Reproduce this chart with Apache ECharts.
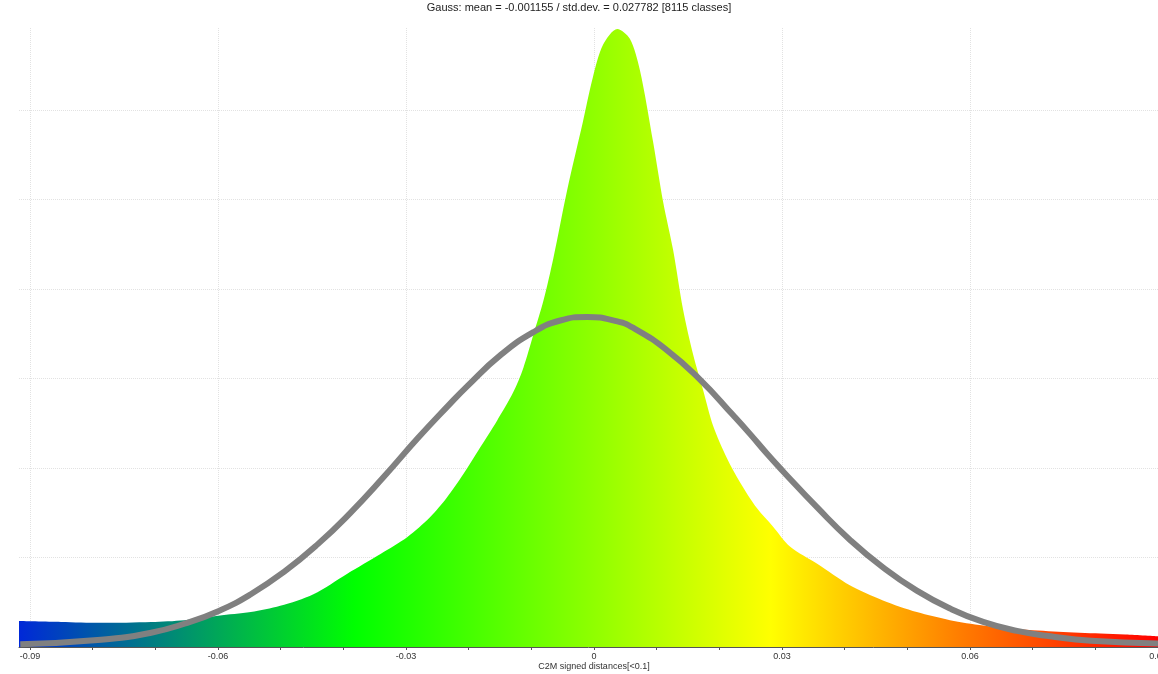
<!DOCTYPE html>
<html>
<head>
<meta charset="utf-8">
<script src="https://cdn.jsdelivr.net/npm/echarts@6/dist/echarts.min.js"></script>
<style>
html,body{margin:0;padding:0;background:#fff;overflow:hidden;}
#chart{width:1158px;height:674px;}
</style>
</head>
<body>
<div id="chart"></div>
<script>
// Histogram outline (C2M signed distance, relative count)
const histX = [-0.0918, -0.0851, -0.0787, -0.0707, -0.0654, -0.0600, -0.0548, -0.0501, -0.0448, -0.0394,
  -0.0341, -0.0298, -0.0262, -0.0235, -0.0209, -0.0182, -0.0155, -0.0129, -0.0113, -0.0097,
  -0.0081, -0.0065, -0.0043, -0.0018, -0.0002, 0.0014, 0.0037, 0.0057, 0.0073, 0.0094,
  0.0110, 0.0126, 0.0142, 0.0158, 0.0174, 0.0190, 0.0212, 0.0233, 0.0260, 0.0285,
  0.0313, 0.0356, 0.0408, 0.0461, 0.0515, 0.0568, 0.0621, 0.0675, 0.0741, 0.0808,
  0.0848, 0.0900];
const histY = [0.29, 0.28, 0.27, 0.28, 0.30, 0.35, 0.39, 0.46, 0.59, 0.82,
  1.04, 1.23, 1.45, 1.67, 1.93, 2.23, 2.53, 2.85, 3.12, 3.49,
  3.87, 4.35, 5.11, 5.87, 6.37, 6.73, 6.91, 6.80, 6.45, 5.65,
  4.98, 4.44, 3.77, 3.27, 2.87, 2.47, 2.11, 1.84, 1.55, 1.35,
  1.12, 0.93, 0.69, 0.52, 0.39, 0.30, 0.24, 0.20, 0.17, 0.15,
  0.14, 0.12];

// Fitted Gauss curve
const gaussX = [-0.0916, -0.0787, -0.0707, -0.0654, -0.0600, -0.0548, -0.0495, -0.0441, -0.0389, -0.0336,
  -0.0282, -0.0234, -0.0202, -0.0150, -0.0097, -0.0054, -0.0011, 0.0037, 0.0062, 0.0116,
  0.0169, 0.0222, 0.0249, 0.0276, 0.0302, 0.0356, 0.0408, 0.0461, 0.0515, 0.0568,
  0.0621, 0.0675, 0.0728, 0.0793, 0.0900];
const gaussY = [0.03, 0.08, 0.16, 0.26, 0.40, 0.59, 0.84, 1.15, 1.50, 1.90,
  2.33, 2.69, 2.92, 3.26, 3.52, 3.65, 3.69, 3.64, 3.57, 3.32,
  2.99, 2.59, 2.38, 2.16, 1.96, 1.56, 1.20, 0.89, 0.63, 0.43,
  0.28, 0.18, 0.12, 0.07, 0.04];

const titleText = 'Gauss: mean = -0.001155 / std.dev. = 0.027782 [8115 classes]';
const xName = 'C2M signed distances[<0.1]';
const xTicks = [-0.09, -0.06, -0.03, 0, 0.03, 0.06, 0.09];

const FONT = 'Liberation Sans, Arial, sans-serif';
const chart = echarts.init(document.getElementById('chart'), null, {renderer: 'canvas'});

const gridLine = '#e2e2e2';
const option = {
  backgroundColor: '#ffffff',
  animation: false,
  title: [
    {
      text: titleText,
      left: 'center',
      top: 2,
      padding: 0,
      textStyle: {fontSize: 11, fontWeight: 'normal', color: '#222', fontFamily: FONT}
    },
    {
      text: xName,
      left: 594,
      textAlign: 'center',
      top: 662,
      padding: 0,
      textStyle: {fontSize: 9, fontWeight: 'normal', color: '#333', fontFamily: FONT}
    }
  ],
  grid: [
    {left: 19, right: 0, top: 28, bottom: 27, containLabel: false, outerBoundsMode: 'none'},
    {left: 30, right: 0, top: 28, bottom: 27, containLabel: false, outerBoundsMode: 'none'}
  ],
  xAxis: [
    {
      gridIndex: 0, type: 'value', min: -0.0918, max: 0.09,
      axisLine: {show: true, onZero: false, lineStyle: {color: '#555', width: 1}},
      axisTick: {show: false}, axisLabel: {show: false}, splitLine: {show: false}
    },
    {
      gridIndex: 1, type: 'value', min: xTicks[0], max: xTicks[xTicks.length - 1], interval: 0.03,
      axisLine: {show: false, onZero: false},
      axisTick: {show: true, length: 3, lineStyle: {color: '#555'}},
      minorTick: {show: true, splitNumber: 3, length: 3, lineStyle: {color: '#555'}},
      minorSplitLine: {show: false},
      axisLabel: {
        fontSize: 9, color: '#333', margin: 5, fontFamily: FONT,
        showMinLabel: true, showMaxLabel: true, hideOverlap: false,
        formatter: v => String(+v.toFixed(2))
      },
      splitLine: {show: true, lineStyle: {color: gridLine, type: 'dotted', width: 1}}
    }
  ],
  yAxis: [
    {
      gridIndex: 0, type: 'value', min: 0, max: 6.92, interval: 1,
      axisLine: {show: false}, axisTick: {show: false}, axisLabel: {show: false},
      splitLine: {show: true, lineStyle: {
        color: [gridLine, gridLine, gridLine, gridLine, gridLine, gridLine, gridLine, 'rgba(0,0,0,0)'],
        type: 'dotted', width: 1}}
    },
    {
      gridIndex: 1, type: 'value', min: 0, max: 6.92, show: false
    }
  ],
  series: [
    {
      type: 'line', xAxisIndex: 0, yAxisIndex: 0,
      data: histX.map((x, i) => [x, histY[i]]),
      showSymbol: false, symbol: 'none',
      smooth: 0.3,
      lineStyle: {width: 0},
      areaStyle: {
        opacity: 1,
        color: new echarts.graphic.LinearGradient(0, 0, 1, 0, [
          {offset: 0, color: '#0028d8'},
          {offset: 0.295, color: '#00ff00'},
          {offset: 0.50, color: '#8cff00'},
          {offset: 0.66, color: '#ffff00'},
          {offset: 0.83, color: '#ff7a00'},
          {offset: 1, color: '#ff0000'}
        ])
      },
      z: 2
    },
    {
      type: 'line', xAxisIndex: 0, yAxisIndex: 0,
      data: gaussX.map((x, i) => [x, gaussY[i]]),
      showSymbol: false, symbol: 'none',
      smooth: 0.5,
      lineStyle: {width: 6, color: '#808080'},
      z: 3
    }
  ]
};
chart.setOption(option);
</script>
</body>
</html>
